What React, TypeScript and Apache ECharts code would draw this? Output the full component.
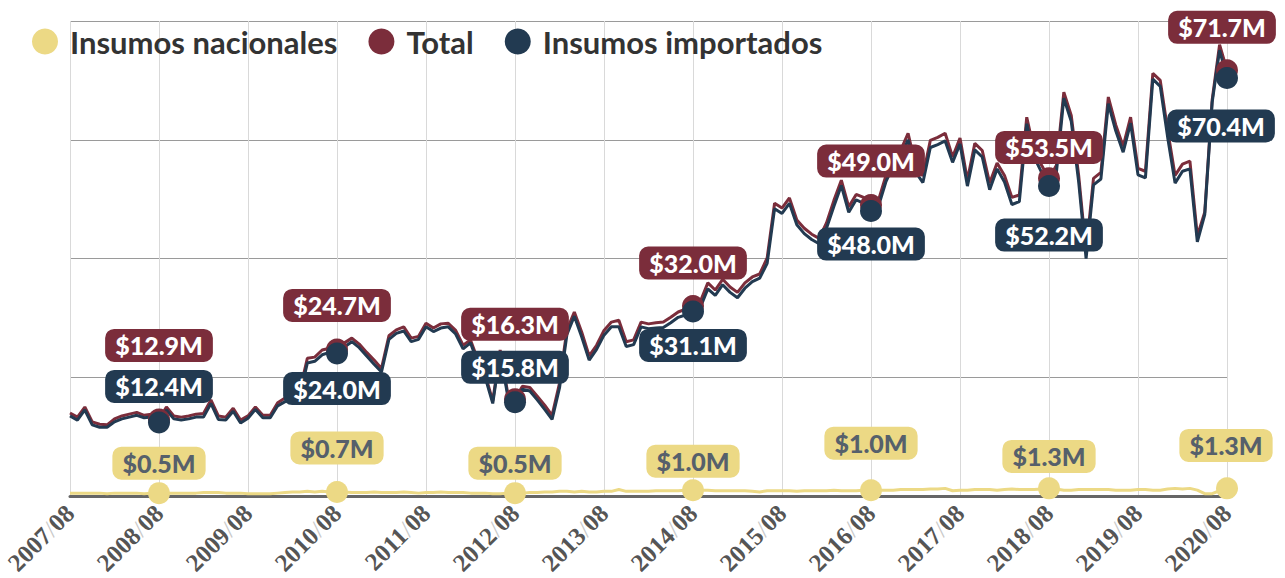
import React, { useEffect, useRef } from "react";
import * as echarts from "echarts";

// Monthly categories 2007/08 .. 2020/08
const months: string[] = [];
for (let y = 2007; y <= 2020; y++) {
  for (let m = 1; m <= 12; m++) {
    if ((y === 2007 && m < 8) || (y === 2020 && m > 8)) continue;
    months.push(`${y}/${String(m).padStart(2, "0")}`);
  }
}

const total = [
  14.0, 13.3, 15.0, 12.5, 12.1, 12.0, 13.0, 13.5, 13.8, 14.1, 13.6, 13.8,
  12.9, 15.0, 13.5, 13.3, 13.5, 13.8, 13.9, 16.2, 13.5, 13.3, 14.8, 12.8,
  13.5, 15.0, 13.6, 13.6, 15.7, 16.5, 17.2, 17.8, 23.2, 23.4, 24.6, 24.9,
  24.7, 25.8, 26.6, 25.6, 24.2, 22.9, 21.5, 27.0, 28.0, 28.5, 26.6, 26.9,
  29.1, 28.3, 29.0, 29.1, 27.9, 25.4, 26.3, 22.9, 20.4, 16.0, 24.6, 17.5,
  16.3, 18.5, 18.3, 16.8, 15.3, 13.6, 19.0, 28.0, 31.0, 27.6, 23.6, 25.4,
  27.9, 29.3, 29.6, 26.0, 26.3, 29.3, 29.0, 29.2, 29.3, 30.1, 31.0, 31.5,
  32.0, 32.8, 35.9, 34.7, 36.5, 35.2, 34.3, 35.9, 36.9, 37.4, 40.1, 49.3,
  48.5, 50.2, 46.5, 45.1, 44.1, 43.4, 46.0, 49.8, 53.2, 48.7, 50.8, 50.3,
  49.0, 49.8, 53.9, 56.6, 58.2, 61.1, 55.7, 53.9, 59.9, 60.4, 61.1, 57.1,
  60.3, 53.2, 59.4, 58.2, 52.7, 56.1, 54.0, 50.3, 50.7, 63.8, 58.2, 55.7,
  53.5, 55.7, 68.0, 64.1, 54.0, 41.1, 53.5, 54.5, 67.2, 62.5, 58.9, 63.8,
  55.2, 54.7, 71.2, 70.0, 61.6, 54.0, 55.9, 56.4, 43.8, 47.8, 66.7, 76.0,
  71.7,
];

const importados = [
  13.5, 12.8, 14.5, 12.0, 11.6, 11.6, 12.5, 13.0, 13.3, 13.6, 13.2, 13.3,
  12.4, 14.5, 13.0, 12.8, 13.0, 13.3, 13.3, 15.6, 12.9, 12.8, 14.3, 12.3,
  13.1, 14.6, 13.2, 13.2, 15.2, 15.9, 16.5, 17.1, 22.4, 22.7, 23.8, 24.2,
  24.0, 25.1, 26.0, 25.0, 23.6, 22.2, 20.9, 26.4, 27.4, 27.8, 26.0, 26.4,
  28.5, 27.7, 28.3, 28.5, 27.3, 24.8, 25.8, 22.4, 19.9, 15.6, 24.2, 17.0,
  15.8, 18.0, 17.7, 16.2, 14.6, 12.9, 18.2, 27.2, 30.3, 26.8, 22.9, 24.7,
  27.1, 28.5, 28.5, 25.2, 25.5, 28.5, 28.2, 28.3, 28.4, 29.2, 30.1, 30.5,
  31.1, 31.8, 34.9, 33.8, 35.6, 34.3, 33.4, 35.0, 36.1, 36.7, 39.2, 48.4,
  47.6, 49.3, 45.7, 44.2, 43.2, 42.5, 45.1, 48.8, 52.3, 47.8, 49.9, 49.3,
  48.0, 48.8, 52.9, 55.6, 57.1, 60.0, 54.6, 52.8, 58.7, 59.2, 59.8, 56.2,
  59.3, 52.2, 58.3, 57.1, 51.6, 55.1, 52.9, 49.1, 49.6, 62.7, 57.1, 54.5,
  52.2, 54.5, 67.0, 63.1, 52.9, 40.0, 52.4, 53.4, 66.1, 61.5, 57.9, 62.8,
  54.1, 53.6, 70.2, 69.0, 60.4, 52.7, 54.7, 55.1, 42.8, 47.4, 66.3, 75.1,
  70.4,
];

const nacionales = [
  0.5, 0.5, 0.5, 0.5, 0.5, 0.4, 0.5, 0.5, 0.5, 0.5, 0.4, 0.5,
  0.5, 0.5, 0.5, 0.5, 0.5, 0.5, 0.6, 0.6, 0.6, 0.5, 0.5, 0.5,
  0.4, 0.4, 0.4, 0.4, 0.5, 0.6, 0.7, 0.7, 0.8, 0.7, 0.8, 0.7,
  0.7, 0.7, 0.6, 0.6, 0.6, 0.7, 0.6, 0.6, 0.6, 0.7, 0.6, 0.5,
  0.6, 0.6, 0.7, 0.6, 0.6, 0.6, 0.5, 0.5, 0.5, 0.4, 0.4, 0.5,
  0.5, 0.5, 0.6, 0.6, 0.7, 0.7, 0.8, 0.8, 0.7, 0.8, 0.7, 0.7,
  0.8, 0.8, 1.1, 0.8, 0.8, 0.8, 0.8, 0.9, 0.9, 0.9, 0.9, 1.0,
  1.0, 1.0, 1.0, 0.9, 0.9, 0.9, 0.9, 0.9, 0.8, 0.7, 0.9, 0.9,
  0.9, 0.9, 0.8, 0.9, 0.9, 0.9, 0.9, 1.0, 0.9, 0.9, 0.9, 1.0,
  1.0, 1.0, 1.0, 1.0, 1.1, 1.1, 1.1, 1.1, 1.2, 1.2, 1.3, 0.9,
  1.0, 1.0, 1.1, 1.1, 1.1, 1.0, 1.1, 1.2, 1.1, 1.1, 1.1, 1.2,
  1.3, 1.2, 1.0, 1.0, 1.1, 1.1, 1.1, 1.1, 1.1, 1.0, 1.0, 1.0,
  1.1, 1.1, 1.0, 1.0, 1.2, 1.3, 1.2, 1.3, 1.0, 0.4, 0.4, 0.9,
  1.3,
];

// Indices of highlighted points (August of even years)
const labeledIdx = [12, 36, 60, 84, 108, 132, 156];

// Label center offsets relative to the point (layout, not data)
const totalLabelOffsets = [[0, -74], [0, -44], [0, -75], [0, -43], [0, -44], [0, -31], [-5, -43]];
const importLabelOffsets = [[0, -36], [0, 35], [0, -35], [0, 34], [0, 33], [0, 49], [-6, 48]];
const nacLabelOffsets = [[0, -30], [0, -44], [0, -30], [0, -29], [0, -47], [0, -32], [-1, -43]];

const YELLOW = "#ecd985";
const RED = "#7b2d3b";
const NAVY = "#223a51";

function lineSeries(name: string, values: number[], color: string, z: number) {
  return {
    name,
    type: "line",
    data: values,
    z,
    showSymbol: false,
    symbol: "none",
    itemStyle: { color },
    lineStyle: { color, width: 3 },
    emphasis: { disabled: true },
  };
}

function pointSeries(name: string, values: number[], offsets: number[][], color: string, textColor: string, z: number) {
  return {
    name,
    type: "scatter",
    z,
    symbol: "circle",
    symbolSize: 22,
    itemStyle: { color, opacity: 1 },
    emphasis: { disabled: true },
    data: labeledIdx.map((idx, k) => ({
      value: [idx, values[idx]],
      label: { offset: offsets[k] },
    })),
    label: {
      show: true,
      position: "inside",
      formatter: (p: any) => "$" + Number(p.value[1]).toFixed(1) + "M",
      backgroundColor: color,
      color: textColor,
      fontFamily: "Lato",
      fontWeight: 900,
      fontSize: 25,
      lineHeight: 26,
      padding: [4, 10, 3, 10],
      borderRadius: 9,
    },
  };
}

export default function App() {
  const ref = useRef<HTMLDivElement>(null);
  useEffect(() => {
    if (!ref.current) return;
    const chart = echarts.init(ref.current, null, { renderer: "svg" });
    chart.setOption({
      animation: false,
      backgroundColor: "#ffffff",
      grid: { left: 70, right: 58, top: 21, bottom: 81, containLabel: false },
      legend: {
        left: 27,
        top: 21,
        icon: "circle",
        itemWidth: 40,
        itemHeight: 26,
        itemGap: 31,
        data: ["Insumos nacionales", "Total", "Insumos importados"],
        textStyle: { fontFamily: "Lato", fontWeight: "bold", fontSize: 31, color: "#333333" },
      },
      xAxis: {
        type: "category",
        data: months,
        boundaryGap: false,
        axisTick: { show: false },
        axisLine: { show: true, lineStyle: { color: "#666666", width: 3 } },
        axisLabel: {
          interval: 11,
          rotate: 45,
          margin: 13,
          fontFamily: "Liberation Serif",
          fontWeight: "bold",
          fontSize: 25,
          color: "#555555",
          formatter: (v: string) => v.replace("/", "{s|/}"),
          rich: {
            s: { color: "#c8c8c8", fontFamily: "Liberation Serif", fontWeight: "normal", fontSize: 25 },
          },
        },
        splitLine: { show: true, interval: 11, lineStyle: { color: "#d9d9d9", width: 1 } },
      },
      yAxis: {
        type: "value",
        min: 0,
        max: 80,
        interval: 20,
        axisLabel: { show: false },
        axisLine: { show: false },
        axisTick: { show: false },
        splitLine: { show: true, lineStyle: { color: "#9a9a9a", width: 1 } },
      },
      series: [
        lineSeries("Insumos nacionales", nacionales, YELLOW, 2),
        lineSeries("Total", total, RED, 3),
        lineSeries("Insumos importados", importados, NAVY, 4),
        pointSeries("nac-pts", nacionales, nacLabelOffsets, YELLOW, "#56606b", 10),
        pointSeries("total-pts", total, totalLabelOffsets, RED, "#ffffff", 11),
        pointSeries("imp-pts", importados, importLabelOffsets, NAVY, "#ffffff", 12),
      ],
    });
    return () => chart.dispose();
  }, []);
  return (
    <div
      ref={ref}
      style={{ position: "fixed", left: 0, top: 0, width: 1285, height: 578, background: "#fff" }}
    />
  );
}
